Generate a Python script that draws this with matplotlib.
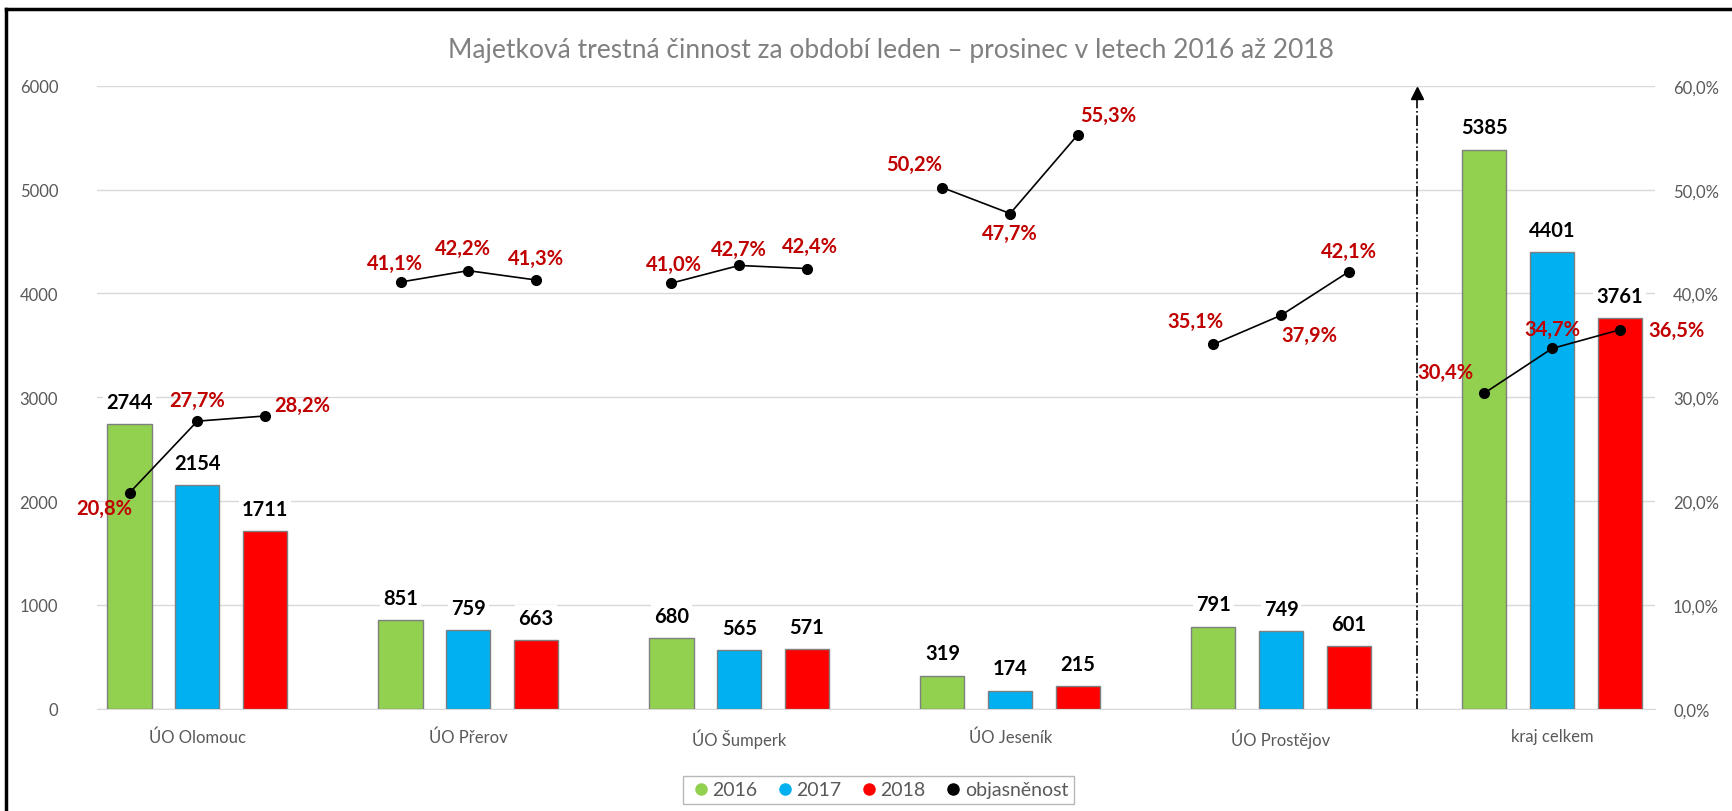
import matplotlib.pyplot as plt
import matplotlib.lines as mlines
import numpy as np

plt.rcParams['font.family'] = ['Lato', 'DejaVu Sans']

categories = ['ÚO Olomouc', 'ÚO Přerov', 'ÚO Šumperk', 'ÚO Jeseník', 'ÚO Prostějov', 'kraj celkem']
years = ['2016', '2017', '2018']
counts_2016 = [2744, 851, 680, 319, 791, 5385]
counts_2017 = [2154, 759, 565, 174, 749, 4401]
counts_2018 = [1711, 663, 571, 215, 601, 3761]
objasnenost = [
    [20.8, 27.7, 28.2],
    [41.1, 42.2, 41.3],
    [41.0, 42.7, 42.4],
    [50.2, 47.7, 55.3],
    [35.1, 37.9, 42.1],
    [30.4, 34.7, 36.5],
]

colors = ['#92D050', '#00B0F0', '#FF0000']
pct_color = '#C00000'
grey = '#595959'

# label offsets (points) for the percentage labels, per point
pct_offsets = [
    [(-18, -11), (0, 15), (27, 8)],
    [(-4, 14), (-4, 16), (0, 16)],
    [(2, 14), (0, 12), (2, 16)],
    [(-20, 17), (0, -14), (22, 14)],
    [(-13, 17), (20, -14), (0, 15)],
    [(-28, 15), (0, 14), (41, 0)],
]

fig = plt.figure(figsize=(17.33, 8.12), dpi=100)
ax = fig.add_axes([0.056, 0.126, 0.899, 0.767])
ax2 = ax.twinx()

x = np.arange(len(categories))
off = 0.25
width = 0.163
series = [counts_2016, counts_2017, counts_2018]
for i, vals in enumerate(series):
    pos = x + (i - 1) * off
    ax.bar(pos, vals, width, color=colors[i], edgecolor='#7F7F7F', linewidth=1, zorder=3)
    for xp, v in zip(pos, vals):
        ax.annotate(str(v), (xp, v), xytext=(0, 16), textcoords='offset points',
                    ha='center', va='center', fontsize=14.5, fontweight='bold', color='black',
                    bbox=dict(boxstyle='square,pad=0.15', fc='white', ec='none'), zorder=4)

ax.set_ylim(0, 6000)
ax.set_yticks(np.arange(0, 6001, 1000))
ax.set_xlim(-0.37, 5.38)
ax.set_xticks(x)
ax.set_xticklabels(categories)
ax.grid(axis='y', color='#D9D9D9', linewidth=1, zorder=0)
ax.set_axisbelow(True)
ax.tick_params(axis='y', length=0, pad=28, labelsize=12, labelcolor=grey)
ax.tick_params(axis='x', length=0, pad=14, labelsize=12, labelcolor=grey)
for s in ['top', 'right', 'left']:
    ax.spines[s].set_visible(False)
ax.spines['bottom'].set_color('#D9D9D9')

# separator arrow
ax.plot([4.5, 4.5], [0, 5880], color='black', linestyle='-.', linewidth=1.2, zorder=2)
ax.plot([4.5], [5930], marker='^', color='black', markersize=8, clip_on=False, zorder=2)

for g in range(len(categories)):
    pos = x[g] + (np.arange(3) - 1) * off
    ax2.plot(pos, objasnenost[g], color='black', linewidth=1.2, marker='o', markersize=7, zorder=5)
    for k, (xp, v) in enumerate(zip(pos, objasnenost[g])):
        ax2.annotate(f'{v:.1f}%'.replace('.', ','), (xp, v), xytext=pct_offsets[g][k],
                     textcoords='offset points', ha='center', va='center',
                     fontsize=14.5, fontweight='bold', color=pct_color, zorder=6)

ax2.set_ylim(0, 60)
ax2.set_yticks(np.arange(0, 61, 10))
ax2.set_yticklabels([f'{v:.1f}%'.replace('.', ',') for v in np.arange(0, 61, 10)])
ax2.tick_params(axis='y', length=0, pad=13, labelsize=12, labelcolor=grey)
for s in ax2.spines.values():
    s.set_visible(False)

fig.text(0.514, 0.938, 'Majetková trestná činnost za období leden – prosinec v letech 2016 až 2018',
         ha='center', va='center', fontsize=19, color='#808080')

handles = [mlines.Line2D([], [], linestyle='none', marker='o', markersize=8, color=c) for c in colors]
handles.append(mlines.Line2D([], [], linestyle='none', marker='o', markersize=8, color='black'))
leg = fig.legend(handles, years + ['objasněnost'], loc='center', bbox_to_anchor=(0.507, 0.026),
                 ncol=4, frameon=True, fontsize=14, handletextpad=0.0, columnspacing=0.8,
                 handlelength=1.2, fancybox=False, borderpad=0.3)
leg.get_frame().set_edgecolor('#A6A6A6')
for t in leg.get_texts():
    t.set_color(grey)

# outer frame (left and top edges visible in the reference)
fig.add_artist(mlines.Line2D([0.0035, 0.0035], [0, 0.988], transform=fig.transFigure, color='black', linewidth=2.5))
fig.add_artist(mlines.Line2D([0.0035, 1], [0.988, 0.988], transform=fig.transFigure, color='black', linewidth=2.5))

fig.savefig('out.png', dpi=100)
